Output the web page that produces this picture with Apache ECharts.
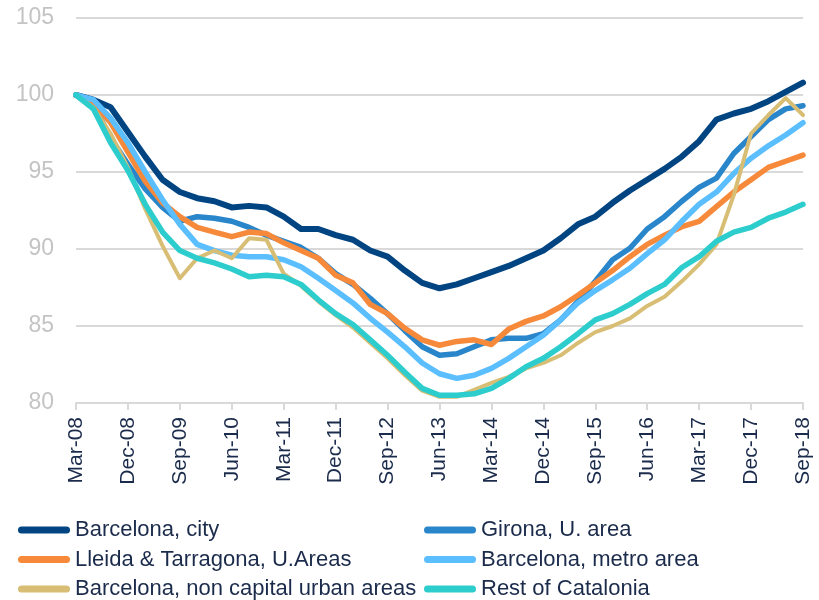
<!DOCTYPE html>
<html>
<head>
<meta charset="utf-8">
<script src="https://cdn.jsdelivr.net/npm/echarts@6/dist/echarts.min.js"></script>
<style>
  html, body { margin: 0; padding: 0; background: #fff; }
  #chart { width: 819px; height: 600px; }
</style>
</head>
<body>
<div id="chart"></div>
<script>
// quarterly index, Mar-08 = 100
const quarters = [
  'Mar-08', 'Jun-08', 'Sep-08', 'Dec-08', 'Mar-09', 'Jun-09', 'Sep-09', 'Dec-09',
  'Mar-10', 'Jun-10', 'Sep-10', 'Dec-10', 'Mar-11', 'Jun-11', 'Sep-11', 'Dec-11',
  'Mar-12', 'Jun-12', 'Sep-12', 'Dec-12', 'Mar-13', 'Jun-13', 'Sep-13', 'Dec-13',
  'Mar-14', 'Jun-14', 'Sep-14', 'Dec-14', 'Mar-15', 'Jun-15', 'Sep-15', 'Dec-15',
  'Mar-16', 'Jun-16', 'Sep-16', 'Dec-16', 'Mar-17', 'Jun-17', 'Sep-17', 'Dec-17',
  'Mar-18', 'Jun-18', 'Sep-18'
];

const bcnCity = [100, 99.7, 99.2, 97.6, 96.0, 94.5, 93.7, 93.3, 93.1, 92.7, 92.8, 92.7, 92.1, 91.3, 91.3,
  90.9, 90.6, 89.9, 89.5, 88.6, 87.8, 87.45, 87.7, 88.1, 88.5, 88.9, 89.4, 89.9, 90.7, 91.6,
  92.1, 93.0, 93.8, 94.5, 95.2, 96.0, 97.0, 98.4, 98.8, 99.1, 99.6, 100.2, 100.8];
const girona = [100, 99.4, 97.2, 95.5, 93.9, 92.7, 91.8, 92.1, 92.0, 91.8, 91.4, 90.9, 90.5, 90.1, 89.4,
  88.4, 87.7, 86.8, 85.8, 84.7, 83.65, 83.1, 83.2, 83.65, 84.1, 84.2, 84.2, 84.5, 85.4, 86.6,
  87.9, 89.3, 90.05, 91.3, 92.1, 93.1, 94.0, 94.6, 96.2, 97.3, 98.4, 99.1, 99.3];
const lleidaTarr = [100, 99.5, 98.2, 96.3, 94.4, 93.0, 92.1, 91.4, 91.1, 90.8, 91.1, 91.0, 90.4, 89.9, 89.4,
  88.3, 87.8, 86.4, 85.8, 84.85, 84.1, 83.75, 84.0, 84.1, 83.8, 84.8, 85.3, 85.65, 86.25, 87.0,
  87.8, 88.6, 89.5, 90.3, 90.9, 91.45, 91.8, 92.75, 93.7, 94.5, 95.3, 95.7, 96.1];
const bcnMetro = [100, 99.7, 98.5, 96.9, 95.0, 93.2, 91.6, 90.3, 89.9, 89.6, 89.5, 89.5, 89.3, 88.85, 88.1,
  87.3, 86.5, 85.5, 84.6, 83.65, 82.6, 81.9, 81.6, 81.8, 82.25, 82.9, 83.65, 84.4, 85.4, 86.5,
  87.3, 88.0, 88.75, 89.7, 90.6, 91.8, 92.9, 93.7, 94.9, 95.9, 96.7, 97.4, 98.2];
const bcnNonCap = [100, 99.2, 97.5, 95.3, 92.6, 90.2, 88.1, 89.4, 89.9, 89.4, 90.7, 90.6, 88.4, 87.6, 86.6,
  85.7, 84.9, 83.9, 82.9, 81.8, 80.8, 80.4, 80.4, 80.85, 81.3, 81.7, 82.25, 82.6, 83.1, 83.9,
  84.6, 85.0, 85.5, 86.3, 86.9, 87.9, 89.0, 90.3, 93.5, 97.5, 98.7, 99.8, 98.7];
const restCat = [100, 99.1, 96.9, 95.1, 92.9, 91.1, 89.9, 89.4, 89.1, 88.7, 88.2, 88.3, 88.2, 87.7, 86.7,
  85.8, 85.1, 84.1, 83.1, 82.0, 80.95, 80.5, 80.5, 80.6, 80.95, 81.6, 82.35, 82.9, 83.65, 84.5,
  85.4, 85.8, 86.4, 87.1, 87.7, 88.8, 89.5, 90.5, 91.1, 91.4, 92.0, 92.4, 92.9];

const names = [
  'Barcelona, city', 'Girona, U. area', 'Lleida & Tarragona, U.Areas',
  'Barcelona, metro area', 'Barcelona, non capital urban areas', 'Rest of Catalonia'
];
const colors = ['#004481', '#2A86CA', '#F7893B', '#5BBEFF', '#D8BE75', '#2DCCCD'];
const widths = [6, 5.5, 5.5, 5.5, 4, 5.5];
const seriesData = [bcnCity, girona, lleidaTarr, bcnMetro, bcnNonCap, restCat];

const font = '"Liberation Sans", Arial, sans-serif';
const textColor = '#1b2b4b';
const pill = 'path://M3.5,0H48.5A3.5,3.5,0,0,1,48.5,7H3.5A3.5,3.5,0,0,1,3.5,0Z';

const legendBase = {
  orient: 'vertical',
  top: 519,
  height: 120,
  padding: 0,
  itemWidth: 52,
  itemHeight: 7,
  itemGap: 7.5,
  icon: pill,
  textStyle: { fontFamily: font, fontSize: 22, color: textColor, lineHeight: 22 }
};

let myChart = echarts.init(document.getElementById('chart'), null, { renderer: 'canvas' });

let option = {
  animation: false,
  color: colors,
  textStyle: { fontFamily: font },
  grid: { left: 76, right: 16, top: 18, bottom: 197 },
  legend: [
    Object.assign({}, legendBase, { left: 18, data: [names[0], names[2], names[4]] }),
    Object.assign({}, legendBase, { left: 424, data: [names[1], names[3], names[5]] })
  ],
  xAxis: {
    type: 'category',
    boundaryGap: false,
    data: quarters,
    axisLine: { lineStyle: { color: '#d9d9d9', width: 2 } },
    axisTick: { interval: 2, length: 7, lineStyle: { color: '#d9d9d9', width: 2 } },
    axisLabel: {
      interval: 2,
      rotate: 90,
      margin: 14,
      fontSize: 21,
      fontFamily: font,
      color: textColor
    },
    splitLine: { show: false }
  },
  yAxis: {
    type: 'value',
    min: 80,
    max: 105,
    interval: 5,
    axisLine: { show: false },
    axisTick: { show: false },
    axisLabel: { fontSize: 23, fontFamily: font, color: '#c4c4c4', margin: 22 },
    splitLine: { lineStyle: { color: '#d9d9d9', width: 2 } }
  },
  series: names.map((name, k) => ({
    name: name,
    type: 'line',
    data: seriesData[k],
    showSymbol: false,
    symbol: 'none',
    itemStyle: { color: colors[k] },
    lineStyle: { width: widths[k], color: colors[k], cap: 'round', join: 'round' },
    emphasis: { disabled: true }
  }))
};

option && myChart.setOption(option);
</script>
</body>
</html>
